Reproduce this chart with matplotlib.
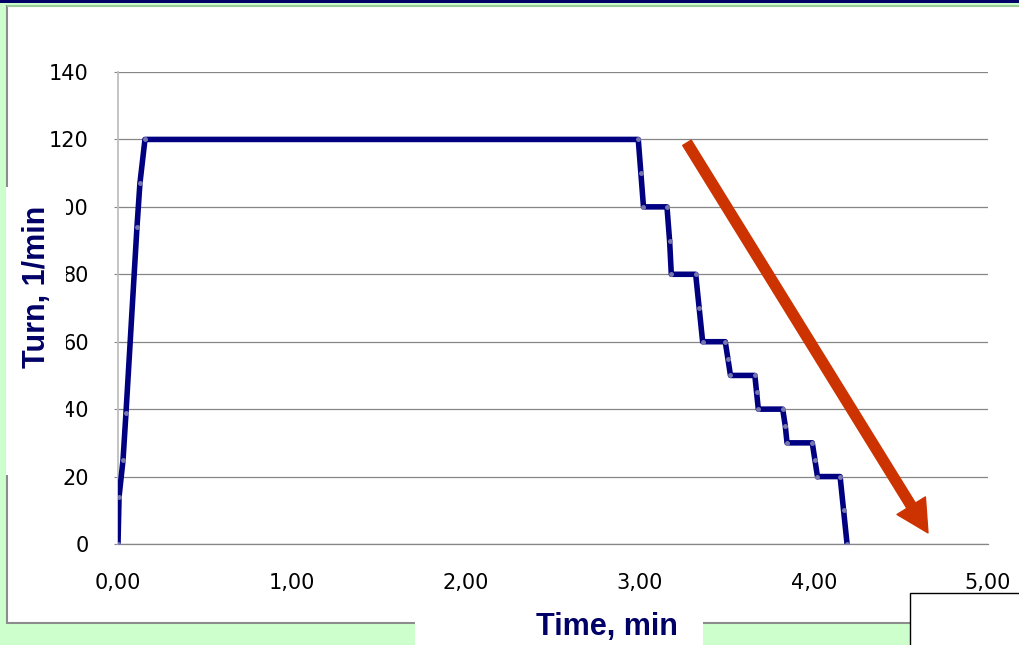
import matplotlib.pyplot as plt
from matplotlib.patches import Rectangle

# Datos
tiempo = [0.0, 0.006, 0.029, 0.046, 0.109, 0.126, 0.155, 2.99, 3.005, 3.02,
          3.155, 3.17, 3.18, 3.32, 3.34, 3.36, 3.49, 3.505, 3.52, 3.66, 3.67,
          3.68, 3.82, 3.835, 3.845, 3.99, 4.005, 4.02, 4.15, 4.17, 4.19]
giros = [0, 14, 25, 39, 94, 107, 120, 120, 110, 100,
         100, 90, 80, 80, 70, 60, 60, 55, 50, 50, 45,
         40, 40, 35, 30, 30, 25, 20, 20, 10, 0]
ticks_y = [0, 20, 40, 60, 80, 100, 120, 140]
ticks_x = [0, 1, 2, 3, 4, 5]
etiquetas_x = ["0,00", "1,00", "2,00", "3,00", "4,00", "5,00"]
flecha_inicio = (3.27, 119)
flecha_fin = (4.655, 3.3)

W, H = 1019, 645
fig = plt.figure(figsize=(W / 100, H / 100), dpi=100, facecolor="#CCFFCC")


def caja(x0, y0, x1, y1, color, borde="none", lw=0, z=0):
    # coordenadas en pixeles (y desde arriba)
    r = Rectangle((x0 / W, 1 - y1 / H), (x1 - x0) / W, (y1 - y0) / H,
                  transform=fig.transFigure, facecolor=color, edgecolor=borde,
                  linewidth=lw, zorder=z)
    fig.patches.append(r)


# marco de la diapositiva
caja(0, 0, W, 2.5, "#000066", z=0)
caja(7, 5.5, W + 5, 623, "white", borde="#8C8C8C", lw=1.5, z=0)
caja(7, 5, W, 6.5, "#99CC99", z=0.5)

ax = fig.add_axes([118 / W, 1 - 544 / H, (988 - 118) / W, (544 - 72) / H])
ax.set_zorder(1)
ax.set_facecolor("none")
ax.plot(tiempo, giros, color="#000080", linewidth=4.0, solid_joinstyle="round",
        marker="o", markersize=2.5, markerfacecolor="#7878B0",
        markeredgecolor="#7878B0", zorder=3)

ax.annotate("", xy=flecha_fin, xytext=flecha_inicio,
            arrowprops=dict(arrowstyle="simple,head_width=1.2,head_length=1.15,tail_width=0.36",
                            color="#CC3300", mutation_scale=20, shrinkA=0, shrinkB=0),
            zorder=4)

ax.set_xlim(0, 5)
ax.set_ylim(0, 140)
ax.set_yticks(ticks_y)
ax.set_xticks(ticks_x)
ax.set_xticklabels(etiquetas_x)
ax.grid(axis="y", color="#868686", linewidth=0.9)
ax.set_axisbelow(True)
for lado in ["top", "right"]:
    ax.spines[lado].set_visible(False)
ax.spines["bottom"].set_color("#868686")
ax.spines["bottom"].set_linewidth(0.9)
ax.spines["left"].set_color("#BFBFBF")
ax.spines["left"].set_linewidth(1.3)
ax.tick_params(axis="y", length=3, color="#868686", pad=18, labelsize=15)
ax.tick_params(axis="x", length=0, pad=21, labelsize=15)

# cajas blancas que tapan parte de las etiquetas
caja(6, 187, 66, 475, "white", z=5)
caja(415, 600, 703, H + 5, "white", z=5)
caja(910, 593, W + 5, H + 5, "white", borde="black", lw=1, z=5)

fig.text(37 / W, 1 - 287 / H, "Turn, 1/min", rotation=90, ha="center", va="center",
         fontsize=22, fontweight="bold", family="Liberation Sans", color="#000066",
         zorder=6)
fig.text(607 / W, 1 - 635 / H, "Time, min", ha="center", va="baseline",
         fontsize=22, fontweight="bold", family="Liberation Sans", color="#000066",
         zorder=6)

fig.savefig("out.png", dpi=100, facecolor=fig.get_facecolor())
